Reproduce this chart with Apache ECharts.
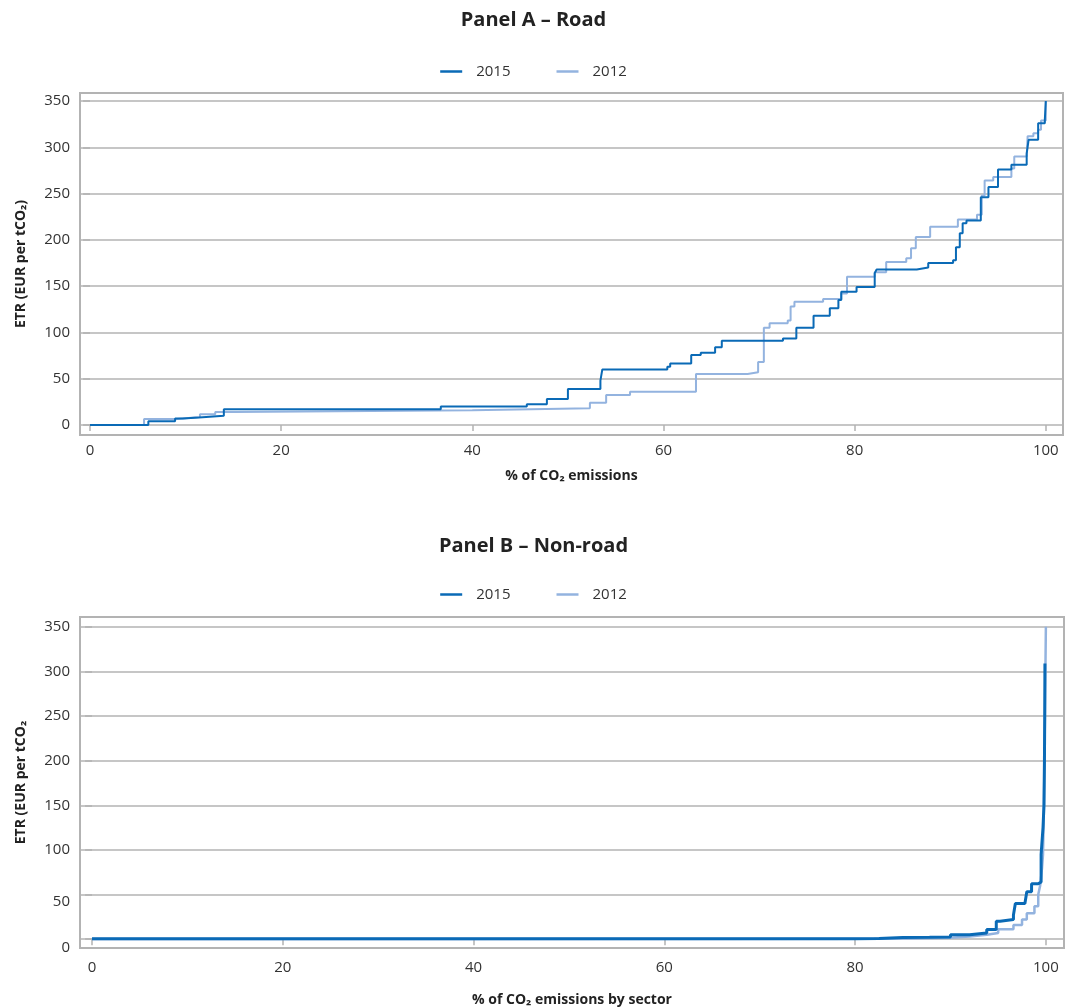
<!DOCTYPE html>
<html><head><meta charset="utf-8">
<script src="https://cdn.jsdelivr.net/npm/echarts@6/dist/echarts.min.js"></script>
<style>html,body{margin:0;padding:0;background:#fff}#c{width:1067px;height:1008px}</style>
</head><body><div id="c"></div>
<script>
// Panel A – Road: [% of CO2 emissions, ETR] step breakpoints
const roadX2015 = [0,6.1,8.9,9.7,11.4,14.0,36.7,45.7,47.8,50,53.4,53.6,60.4,60.7,62.9,63.9,65.4,66.1,72.5,73.9,75.7,77.4,78.3,78.6,80.2,82.1,82.3,86.5,87.7,90.3,90.6,91,91.3,91.7,93.2,94,95,96.4,98,98.2,99.2,99.9,100];
const roadY2015 = [0,4,7,8,10,17,20,22.5,28,39,48,60,63,66.5,75.5,78,84,91,93.5,105,118,126,135,144,149,164,168,170,175,178,192,207,218,221,246,257,276,281,293,308,326,330,350];
const roadX2012 = [0,5.65,9.1,11.5,13.1,15.2,40,52.3,54,56.5,63.4,68.8,69.9,70.5,71.1,73,73.3,73.7,76.7,78.6,79.2,82.1,83.3,85.4,85.9,86.4,87.9,90.8,92.8,93.3,93.6,94.5,96.4,96.7,98,98.1,98.7,99.2,99.5,100];
const roadY2012 = [0,6.5,8.6,11.5,14,16,18,24,32.5,36,55,57,68,105,110,113,128,133,136,142,160,165,176,180,191,203,214,222,227,248,264,268,277,290,292,312,315,319,329,350];
// Panel B – Non-road
const nonroadX2015 = [0,40,80,82.5,85,87.8,90,92,93.8,94.8,95.2,96.6,96.8,97.8,98,98.5,99.2,99.5,99.6,99.7,99.8,99.85,99.88,99.9];
const nonroadY2015 = [0.5,0.6,0.8,2,2.2,2.5,5,7,10.7,20,22,27,40,42,53,62,64,95,110,125,150,200,250,309];
const nonroadX2012 = [0,40,82,86,90,92,93.8,95,96.6,97.5,98,98.8,99.2,99.4,99.6,99.7,99.8,99.9,100];
const nonroadY2012 = [0.3,0.4,0.8,1.5,3,5,7,11,16,22,29,37,50,60,80,95,150,250,350];
const yTicks = [0,50,100,150,200,250,300,350];
const xTicks = [0,20,40,60,80,100];
const seriesNames = ['2015','2012'];
const dark = '#0a6ab6', light = '#93b3df';

const pair = (xs, ys) => xs.map((x,i)=>[x, ys[i]]);
const FONT = "'Open Sans', 'Noto Sans', sans-serif";
const gridLine = {show:true, lineStyle:{color:'#b3b3b3', width:1.5}};

function xAxis(gi, name, min, max, gap, margin){
  return {type:'value', gridIndex:gi, min:min, max:max, name:name, nameLocation:'middle', nameGap:gap,
    nameTextStyle:{fontFamily:FONT, fontSize:14, fontWeight:'bold', color:'#222'},
    axisLine:{show:false}, splitLine:{show:false},
    axisTick:{show:true, customValues:xTicks, length:6, lineStyle:{color:'#b3b3b3', width:1.5}},
    axisLabel:{customValues:xTicks, fontFamily:FONT, fontSize:15, color:'#333', margin:margin}};
}
function yAxis(gi, name, min, max, gap, shifted){
  const lab = {customValues:yTicks, fontFamily:FONT, fontSize:15, color:'#333', margin:10};
  if (shifted) {
    lab.formatter = v => v === 0 ? '{z|0}' : (v === 50 ? '{f|50}' : String(v));
    lab.rich = {
      z:{fontFamily:FONT, fontSize:15, color:'#333', padding:[18,0,0,0]},
      f:{fontFamily:FONT, fontSize:15, color:'#333', padding:[14,0,0,0]}
    };
  }
  return {type:'value', gridIndex:gi, min:min, max:max, name:name, nameLocation:'middle', nameGap:gap,
    nameTextStyle:{fontFamily:FONT, fontSize:14, fontWeight:'bold', color:'#222'},
    axisLine:{show:false}, splitLine:gridLine,
    axisTick:{show:true, customValues:yTicks, length:7, lineStyle:{color:'#b3b3b3', width:1.5}},
    axisLabel:lab};
}
function legend(top){
  return {top:top, left:'center', icon:'rect', itemWidth:22, itemHeight:2.5, itemGap:46,
    data:seriesNames, textStyle:{fontFamily:FONT, fontSize:15, color:'#333', padding:[0,0,0,9]}};
}
function line(name, data, gi, color, w, z){
  return {type:'line', name:name, xAxisIndex:gi, yAxisIndex:gi, data:data, step:'end', symbol:'none',
    lineStyle:{color:color, width:w}, itemStyle:{color:color}, z:z, animation:false};
}

const chart = echarts.init(document.getElementById('c'), null, {renderer:'canvas'});
chart.setOption({
  animation:false,
  title:[
    {text:'Panel A – Road', left:'center', top:5, textStyle:{fontFamily:FONT, fontSize:20, fontWeight:'bold', color:'#222'}},
    {text:'Panel B – Non-road', left:'center', top:531, textStyle:{fontFamily:FONT, fontSize:20, fontWeight:'bold', color:'#222'}}
  ],
  legend:[legend(59), legend(582)],
  grid:[
    {left:80, top:93, width:983, height:342, show:true, borderColor:'#b3b3b3', borderWidth:2, containLabel:false},
    {left:80, top:617, width:984, height:335, show:true, borderColor:'#b3b3b3', borderWidth:2, containLabel:false}
  ],
  xAxis:[ xAxis(0,'% of CO₂ emissions', -1.05, 101.8, 34, 8), xAxis(1,'% of CO₂ emissions by sector', -1.26, 101.9, 45, 12) ],
  yAxis:[ yAxis(0,'ETR (EUR per tCO₂)', -10.8, 358.6, 52, false), yAxis(1,'ETR (EUR per tCO₂', -9.9, 361, 52, true) ],
  series:[
    line('2012', pair(roadX2012, roadY2012), 0, light, 2, 2),
    line('2015', pair(roadX2015, roadY2015), 0, dark, 2, 3),
    line('2012', pair(nonroadX2012, nonroadY2012), 1, light, 2.5, 2),
    line('2015', pair(nonroadX2015, nonroadY2015), 1, dark, 3, 3)
  ]
});
</script></body></html>
